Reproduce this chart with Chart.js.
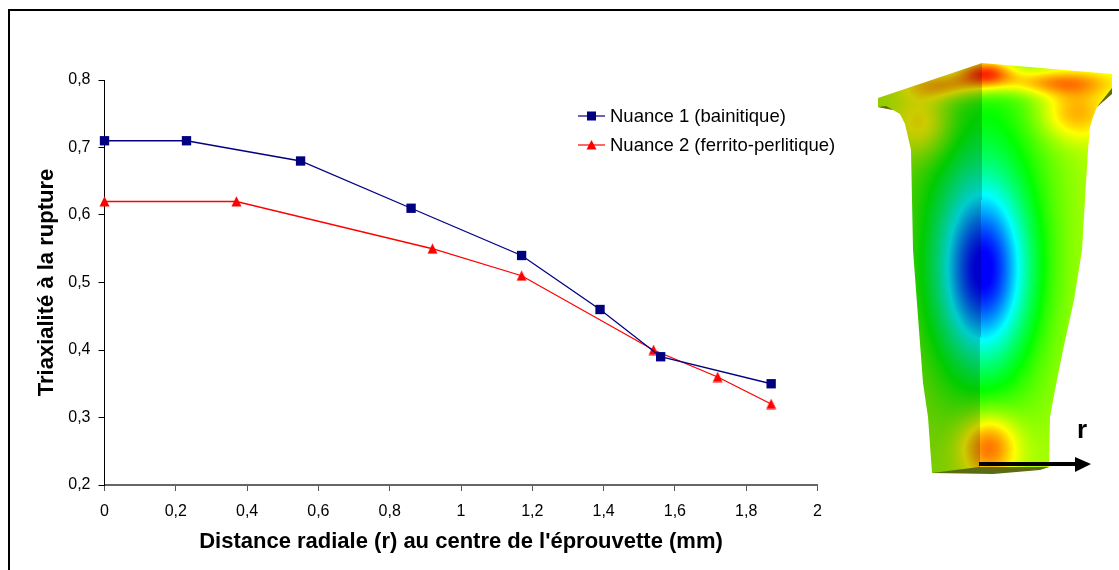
<!DOCTYPE html>
<html>
<head>
<meta charset="utf-8">
<title>Triaxialité à la rupture</title>
<script src="https://cdn.jsdelivr.net/npm/chart.js@4/dist/chart.umd.min.js"></script>
<style>
  html, body { margin: 0; padding: 0; background: #fff; }
  #wrap { position: relative; width: 1119px; height: 570px; overflow: hidden; }
  #legend { position: absolute; left: 578px; top: 101px; font: 18.5px "Liberation Sans", Arial, sans-serif; color: #000; }
  #legend div { display: flex; align-items: center; height: 29.5px; white-space: nowrap; }
  #legend svg { margin-right: 5px; }
</style>
</head>
<body>
<div id="wrap">
  <canvas id="myChart" width="1119" height="570"></canvas>
  <div id="legend"></div>
</div>
<script>
// Values
const name1 = "Nuance 1 (bainitique)";
const r1 = [0, 0.23, 0.55, 0.86, 1.17, 1.39, 1.56, 1.87];
const tri1 = [0.71, 0.71, 0.68, 0.61, 0.54, 0.46, 0.39, 0.35];

const name2 = "Nuance 2 (ferrito-perlitique)";
const r2 = [0, 0.37, 0.92, 1.17, 1.54, 1.72, 1.87];
const tri2 = [0.62, 0.62, 0.55, 0.51, 0.40, 0.36, 0.32];

const xTickLabels = ["0", "0,2", "0,4", "0,6", "0,8", "1", "1,2", "1,4", "1,6", "1,8", "2"];
const yTickLabels = ["0,2", "0,3", "0,4", "0,5", "0,6", "0,7", "0,8"];

const FONT = '"Liberation Sans", Arial, sans-serif';
const BLUE = "#000080";
const RED = "#ff0000";

// legend, with the line + marker swatch of the original
function swatch(color, marker) {
  return `<svg width="27" height="12"><line x1="0" y1="6" x2="27" y2="6" stroke="${color}" stroke-width="1.2"/>${marker}</svg>`;
}
document.getElementById("legend").innerHTML =
  `<div>${swatch(BLUE, `<rect x="9" y="1.5" width="9" height="9" fill="${BLUE}"/>`)}<span>${name1}</span></div>` +
  `<div>${swatch(RED, `<polygon points="13.5,1 18.5,10.5 8.5,10.5" fill="${RED}"/>`)}<span>${name2}</span></div>`;

// triangle marker centred on its box, chart.js centres its own on the centroid
function triangleMarker() {
  const c = document.createElement("canvas");
  c.width = 11; c.height = 11;
  const g = c.getContext("2d");
  g.fillStyle = RED;
  g.beginPath();
  g.moveTo(5.5, 0.3);
  g.lineTo(10.5, 10.5);
  g.lineTo(0.5, 10.5);
  g.closePath();
  g.fill();
  return c;
}

// rainbow used by the finite element picture: 0 blue .. 1 red
function rainbow(v) {
  v = Math.max(0, Math.min(1, v)) * 4;
  if (v < 1) return [0, 255 * v, 255];
  if (v < 2) return [0, 255, 255 * (2 - v)];
  if (v < 3) return [255 * (v - 2), 255, 0];
  return [255, 255 * (4 - v), 0];
}
function bump(x, y, cx, cy, rx, ry) {
  const dx = (x - cx) / rx, dy = (y - cy) / ry;
  return Math.exp(-(dx * dx + dy * dy));
}
function specimenField(x, y) {
  let v = 0.69;
  v -= 0.24 * bump(x, y, 980, 230, 75, 210);
  v -= 0.48 * bump(x, y, 983, 272, 44, 85);
  v += 0.28 * bump(x, y, 988, 446, 30, 34);
  v += 0.17 * bump(x, y, 923, 123, 30, 34);
  v += 0.17 * bump(x, y, 1073, 112, 35, 28);
  v += 0.34 * bump(x, y, 985, 72, 28, 14);
  v += 0.20 * bump(x, y, 1050, 82, 60, 13);
  v += 0.20 * bump(x, y, 945, 85, 40, 14);
  return v;
}
const outline = [[878,98],[982,63],[1112,74],[1112,93],[1097,107],[1093,117],[1090,127],[1088,150],[1085,200],[1082,250],
  [1074,300],[1063,350],[1055,390],[1050,417],[1049,467],[993,473],[932,473],[928,417],[923,383],[918,317],[913,250],
  [911,150],[908,137],[905,124],[900,114],[893,110],[878,107]];

function drawSpecimen(ctx) {
  const w = 260, h = 430, ox = 860, oy = 55;
  const buf = document.createElement("canvas");
  buf.width = w; buf.height = h;
  const bctx = buf.getContext("2d");
  const img = bctx.createImageData(w, h);
  for (let j = 0; j < h; j++) {
    for (let i = 0; i < w; i++) {
      const x = ox + i, y = oy + j;
      const c = rainbow(specimenField(x, y));
      const ridge = 982 - (y - 63) * 3 / 410;
      const shade = x < ridge ? 0.8 : 1;
      const k = (i + j * w) * 4;
      img.data[k] = c[0] * shade;
      img.data[k + 1] = c[1] * shade;
      img.data[k + 2] = c[2] * shade;
      img.data[k + 3] = 255;
    }
  }
  bctx.putImageData(img, 0, 0);
  ctx.save();
  ctx.beginPath();
  outline.forEach((p, i) => i ? ctx.lineTo(p[0], p[1]) : ctx.moveTo(p[0], p[1]));
  ctx.closePath();
  ctx.clip();
  ctx.drawImage(buf, ox, oy);
  ctx.restore();
  // dark underside of the specimen faces
  ctx.fillStyle = "#5c6a10";
  [[[932,473],[979,467],[1049,467],[1040,470],[993,474]], [[1112,88],[1112,94],[1097,107]], [[878,107],[893,110],[886,106]]].forEach(poly => {
    ctx.beginPath();
    poly.forEach((p, i) => i ? ctx.lineTo(p[0], p[1]) : ctx.moveTo(p[0], p[1]));
    ctx.closePath();
    ctx.fill();
  });
}

const decor = {
  id: "decor",
  beforeDraw(chart) {
    const ctx = chart.ctx;
    ctx.save();
    ctx.fillStyle = "#000";
    ctx.fillRect(8, 9, 1111, 2);
    ctx.fillRect(8, 9, 2, 561);
    drawSpecimen(ctx);
    ctx.strokeStyle = "#000";
    ctx.lineWidth = 4;
    ctx.beginPath();
    ctx.moveTo(979, 464);
    ctx.lineTo(1076, 464);
    ctx.stroke();
    ctx.fillStyle = "#000";
    ctx.beginPath();
    ctx.moveTo(1091, 464);
    ctx.lineTo(1075, 457);
    ctx.lineTo(1075, 472);
    ctx.closePath();
    ctx.fill();
    ctx.font = "bold 26px " + FONT;
    ctx.textAlign = "center";
    ctx.textBaseline = "alphabetic";
    ctx.fillText("r", 1082, 438);
    ctx.restore();
  }
};

new Chart(document.getElementById("myChart"), {
  type: "scatter",
  data: {
    datasets: [{
      label: name1,
      data: r1.map((x, i) => ({ x: x, y: tri1[i] })),
      showLine: true,
      borderColor: BLUE,
      backgroundColor: BLUE,
      borderWidth: 1.3,
      pointStyle: "rect",
      pointRadius: 6.6,
      pointBorderWidth: 0,
      pointBackgroundColor: BLUE
    }, {
      label: name2,
      data: r2.map((x, i) => ({ x: x, y: tri2[i] })),
      showLine: true,
      borderColor: RED,
      backgroundColor: RED,
      borderWidth: 1.3,
      pointStyle: triangleMarker(),
      pointRadius: 5.5,
      pointBorderWidth: 0,
      pointBackgroundColor: RED
    }]
  },
  options: {
    responsive: false,
    animation: false,
    clip: false,
    layout: { padding: { left: 0, right: 301.5, top: 80, bottom: 0 } },
    plugins: {
      legend: { display: false },
      tooltip: { enabled: false }
    },
    scales: {
      x: {
        type: "linear",
        min: 0, max: 2,
        afterFit: s => { s.height = 85; },
        afterBuildTicks: s => { s.ticks = xTickLabels.map((l, i) => ({ value: i * 0.2 })); },
        border: { color: "#666", width: 2 },
        grid: { drawOnChartArea: false, drawTicks: true, tickLength: 6, color: "#555" },
        ticks: {
          color: "#000",
          font: { family: FONT, size: 16 },
          maxRotation: 0,
          autoSkip: false,
          padding: 11,
          callback: (v, i) => xTickLabels[i]
        },
        title: {
          display: true,
          text: "Distance radiale (r) au centre de l'éprouvette (mm)",
          color: "#000",
          font: { family: FONT, size: 22, weight: "bold" },
          padding: { top: 0, bottom: 15 }
        }
      },
      y: {
        min: 0.2, max: 0.8,
        afterFit: s => { s.width = 104.5; },
        afterBuildTicks: s => { s.ticks = yTickLabels.map((l, i) => ({ value: 0.2 + i * 0.1 })); },
        border: { color: "#000", width: 1 },
        grid: { drawOnChartArea: false, drawTicks: true, tickLength: 6, color: "#000" },
        ticks: {
          color: "#000",
          font: { family: FONT, size: 16 },
          autoSkip: false,
          padding: 8,
          callback: (v, i) => yTickLabels[i]
        },
        title: {
          display: true,
          text: "Triaxialité à la rupture",
          color: "#000",
          font: { family: FONT, size: 22, weight: "bold" },
          padding: { top: 34, bottom: 0 }
        }
      }
    }
  },
  plugins: [decor]
});
</script>
</body>
</html>
